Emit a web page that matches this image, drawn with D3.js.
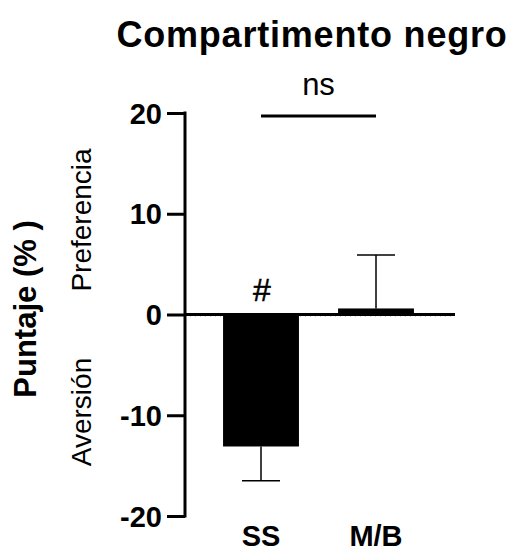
<!DOCTYPE html>
<html><head><meta charset="utf-8">
<script src="https://cdn.jsdelivr.net/npm/d3@7"></script>
<style>body{margin:0;background:#fff}svg{display:block}text{font-family:"Liberation Sans",Arial,sans-serif}</style>
</head><body>
<script>
const categories = ["SS", "M/B"];
const means = [-13.1, 0.6];
const errors = [3.4, 5.3];
const yTicks = [-20, -10, 0, 10, 20];
const marks = ["#", ""];

const W = 528, H = 548;
const svg = d3.select("body").append("svg").attr("width", W).attr("height", H);

const y = d3.scaleLinear().domain([-20, 20]).range([516, 113]);
const x = d3.scaleBand().domain(categories).range([203.5, 433.5]).paddingInner(0.34).paddingOuter(0.17);

// title
svg.append("text").attr("x", 312).attr("y", 47).attr("text-anchor", "middle")
  .style("font-size", "36px").style("font-weight", "bold").style("letter-spacing", "0.8px")
  .text("Compartimento negro");

// zero baseline dotted + axis line
svg.append("line").attr("x1", 185).attr("x2", 455).attr("y1", y(0) + 1.5).attr("y2", y(0) + 1.5)
  .attr("stroke", "#999").attr("stroke-width", 1).attr("stroke-dasharray", "1,4");
svg.append("line").attr("x1", 185).attr("x2", 455).attr("y1", y(0)).attr("y2", y(0))
  .attr("stroke", "#000").attr("stroke-width", 3);

// bars
svg.selectAll("rect.bar").data(categories).enter().append("rect")
  .attr("x", d => x(d)).attr("width", x.bandwidth())
  .attr("y", (d, i) => Math.min(y(0), y(means[i])))
  .attr("height", (d, i) => Math.abs(y(means[i]) - y(0)))
  .attr("fill", "#000");

// error bars
const capW = 38;
categories.forEach((c, i) => {
  const cx = x(c) + x.bandwidth() / 2;
  const end = means[i] < 0 ? means[i] - errors[i] : means[i] + errors[i];
  svg.append("line").attr("x1", cx).attr("x2", cx).attr("y1", y(means[i])).attr("y2", y(end))
    .attr("stroke", "#000").attr("stroke-width", 1.5);
  svg.append("line").attr("x1", cx - capW / 2).attr("x2", cx + capW / 2).attr("y1", y(end)).attr("y2", y(end))
    .attr("stroke", "#000").attr("stroke-width", 1.5);
  if (marks[i]) {
    svg.append("text").attr("x", cx + 1).attr("y", 301).attr("text-anchor", "middle")
      .style("font-size", "32px").style("stroke", "#000").style("stroke-width", "0.5px").text(marks[i]);
  }
});

// y axis
const yAxis = d3.axisLeft(y).tickValues(yTicks).tickSize(18).tickPadding(5).tickFormat(d => String(d));
const gy = svg.append("g").attr("transform", "translate(185,0)").call(yAxis);
gy.select(".domain").remove();
gy.append("line").attr("x1", 0).attr("x2", 0).attr("y1", y(20) - 1.5).attr("y2", y(-20) + 1.5)
  .attr("stroke", "#000").attr("stroke-width", 3);
gy.selectAll(".tick line").attr("stroke", "#000").attr("stroke-width", 3);
gy.selectAll(".tick text").attr("fill", "#000").style("font-size", "29px").style("font-weight", "bold")
  .style("font-family", "'Liberation Sans',Arial,sans-serif").attr("dy", "0.35em");

// x labels
categories.forEach(c => {
  svg.append("text").attr("x", x(c) + x.bandwidth() / 2).attr("y", 546).attr("text-anchor", "middle")
    .style("font-size", "29px").style("font-weight", "bold").text(c);
});

// significance bracket
const cx0 = x(categories[0]) + x.bandwidth() / 2, cx1 = x(categories[1]) + x.bandwidth() / 2;
svg.append("line").attr("x1", cx0).attr("x2", cx1).attr("y1", 116).attr("y2", 116)
  .attr("stroke", "#000").attr("stroke-width", 3);
svg.append("text").attr("x", (cx0 + cx1) / 2).attr("y", 95).attr("text-anchor", "middle")
  .style("font-size", "31px").text("ns");

// y titles
svg.append("text").attr("transform", "translate(36,309) rotate(-90)").attr("text-anchor", "middle")
  .style("font-size", "31px").style("font-weight", "bold").text("Puntaje (% )");
svg.append("text").attr("transform", "translate(91,220) rotate(-90)").attr("text-anchor", "middle")
  .style("font-size", "28px").text("Preferencia");
svg.append("text").attr("transform", "translate(91,412) rotate(-90)").attr("text-anchor", "middle")
  .style("font-size", "28px").text("Aversión");
</script>
</body></html>
